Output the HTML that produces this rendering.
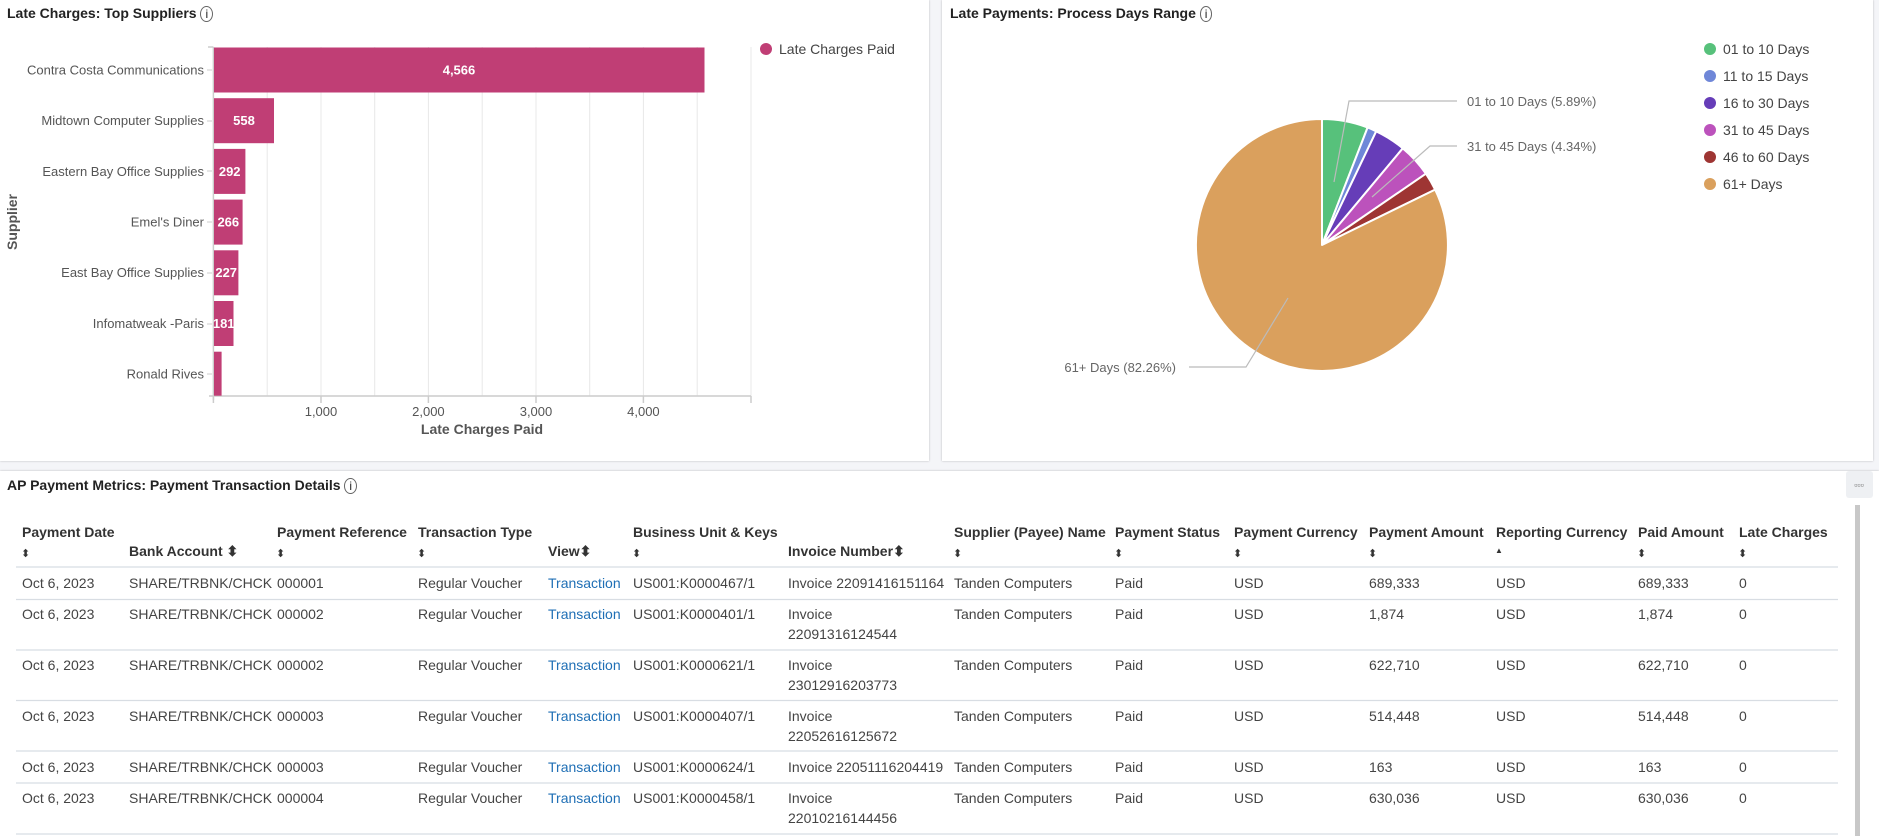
<!DOCTYPE html>
<html><head><meta charset="utf-8"><style>
body{margin:0;width:1879px;height:836px;background:#f4f5f8;font-family:"Liberation Sans",sans-serif;position:relative;overflow:hidden;color:#333}
.panel{position:absolute;background:#fff;box-shadow:0 0 2px rgba(0,0,0,.25)}
.t{position:absolute;white-space:nowrap}
.h{font-weight:bold;font-size:14px;color:#222}
table{position:absolute;left:16px;top:515px;border-collapse:collapse;font-size:14px}
td{vertical-align:top;padding:0;color:#444}
.th{font-weight:bold;color:#333;font-size:14px}
a{color:#1f6fb5;text-decoration:none}
</style></head><body>
<div class="panel" style="left:0;top:0;width:929px;height:461px"></div>
<div class="panel" style="left:942px;top:0;width:931px;height:461px"></div>
<div class="panel" style="left:0;top:471px;width:1879px;height:365px"></div>

<div class="t h" style="left:7px;top:5px">Late Charges: Top Suppliers <span style="font-weight:normal;font-size:12px;border:1px solid #666;border-radius:50%;padding:0 4px">i</span></div>
<div class="t h" style="left:950px;top:5px">Late Payments: Process Days Range <span style="font-weight:normal;font-size:12px;border:1px solid #666;border-radius:50%;padding:0 4px">i</span></div>
<div class="t h" style="left:7px;top:477px">AP Payment Metrics: Payment Transaction Details <span style="font-weight:normal;font-size:12px;border:1px solid #666;border-radius:50%;padding:0 4px">i</span></div>

<svg style="position:absolute;left:0;top:0" width="1879" height="836" font-family="Liberation Sans, sans-serif">
<g stroke="#e8e8e8">
<line x1="267.2" y1="47" x2="267.2" y2="396"/><line x1="321" y1="47" x2="321" y2="396"/><line x1="374.7" y1="47" x2="374.7" y2="396"/><line x1="428.4" y1="47" x2="428.4" y2="396"/><line x1="482.2" y1="47" x2="482.2" y2="396"/><line x1="536" y1="47" x2="536" y2="396"/><line x1="589.7" y1="47" x2="589.7" y2="396"/><line x1="643.4" y1="47" x2="643.4" y2="396"/><line x1="697.2" y1="47" x2="697.2" y2="396"/><line x1="751" y1="47" x2="751" y2="396"/>
</g>
<g stroke="#ccc" stroke-width="1.5">
<line x1="213.4" y1="47" x2="213.4" y2="400"/><line x1="208" y1="47" x2="213.4" y2="47"/>
<line x1="209" y1="396" x2="751" y2="396"/>
<line x1="213.4" y1="396" x2="213.4" y2="403"/><line x1="321" y1="396" x2="321" y2="403"/><line x1="428.4" y1="396" x2="428.4" y2="403"/><line x1="536" y1="396" x2="536" y2="403"/><line x1="643.4" y1="396" x2="643.4" y2="403"/><line x1="751" y1="396" x2="751" y2="403"/>
</g>
<g fill="#c03e75">
<rect x="214" y="47.5" width="490.5" height="45"/>
<rect x="214" y="98.2" width="60" height="45"/>
<rect x="214" y="148.9" width="31.4" height="45"/>
<rect x="214" y="199.6" width="28.6" height="45"/>
<rect x="214" y="250.3" width="24.4" height="45"/>
<rect x="214" y="301" width="19.5" height="45"/>
<rect x="214" y="351.7" width="7.6" height="44"/>
</g>
<g fill="#fff" font-size="13" font-weight="bold" text-anchor="middle">
<text x="459" y="74.5">4,566</text><text x="244" y="125">558</text><text x="229.7" y="175.8">292</text><text x="228.3" y="226.5">266</text><text x="226.2" y="277.2">227</text><text x="223.7" y="328">181</text>
</g>
<g fill="#555" font-size="13" text-anchor="end">
<text x="204" y="74.5">Contra Costa Communications</text>
<text x="204" y="125">Midtown Computer Supplies</text>
<text x="204" y="175.8">Eastern Bay Office Supplies</text>
<text x="204" y="226.5">Emel's Diner</text>
<text x="204" y="277.2">East Bay Office Supplies</text>
<text x="204" y="328">Infomatweak -Paris</text>
<text x="204" y="378.7">Ronald Rives</text>
</g>
<g stroke="#ccc"><line x1="207" y1="70" x2="212" y2="70"/><line x1="207" y1="121" x2="212" y2="121"/><line x1="207" y1="171" x2="212" y2="171"/><line x1="207" y1="222" x2="212" y2="222"/><line x1="207" y1="273" x2="212" y2="273"/><line x1="207" y1="324" x2="212" y2="324"/><line x1="207" y1="374" x2="212" y2="374"/></g>
<g fill="#555" font-size="13" text-anchor="middle">
<text x="321" y="416">1,000</text><text x="428.4" y="416">2,000</text><text x="536" y="416">3,000</text><text x="643.4" y="416">4,000</text>
</g>
<text x="482" y="434" font-size="14" font-weight="bold" fill="#555" text-anchor="middle">Late Charges Paid</text>
<text transform="translate(17,222) rotate(-90)" font-size="14" font-weight="bold" fill="#555" text-anchor="middle">Supplier</text>
<circle cx="766" cy="49" r="6" fill="#c03e75"/>
<text x="779" y="54" font-size="14" fill="#444">Late Charges Paid</text>

<g stroke="#fff" stroke-width="2" stroke-linejoin="round">
<path d="M1322,245 L1322,119 A126,126 0 0 1 1367.6,127.5 Z" fill="#57c17b"/>
<path d="M1322,245 L1367.6,127.5 A126,126 0 0 1 1376.2,131.3 Z" fill="#6f87d8"/>
<path d="M1322,245 L1376.2,131.3 A126,126 0 0 1 1402.8,148.3 Z" fill="#663db8"/>
<path d="M1322,245 L1402.8,148.3 A126,126 0 0 1 1425.9,173.7 Z" fill="#bc52bc"/>
<path d="M1322,245 L1425.9,173.7 A126,126 0 0 1 1435.1,189.6 Z" fill="#9e3533"/>
<path d="M1322,245 L1435.1,189.6 A126,126 0 1 1 1322,119 Z" fill="#daa05d"/>
</g>
<g stroke="#bbb" fill="none" stroke-width="1.2">
<polyline points="1334,182 1349,101 1457,101"/>
<polyline points="1372,197 1430,146 1457,146"/>
<polyline points="1288,298 1246,367 1189,367"/>
</g>
<g fill="#666" font-size="13">
<text x="1467" y="106">01 to 10 Days (5.89%)</text>
<text x="1467" y="151">31 to 45 Days (4.34%)</text>
<text x="1176" y="372" text-anchor="end">61+ Days (82.26%)</text>
</g>
<g font-size="14" fill="#444">
<circle cx="1710" cy="49" r="6" fill="#57c17b"/><text x="1723" y="54">01 to 10 Days</text>
<circle cx="1710" cy="76" r="6" fill="#6f87d8"/><text x="1723" y="81">11 to 15 Days</text>
<circle cx="1710" cy="103" r="6" fill="#663db8"/><text x="1723" y="108">16 to 30 Days</text>
<circle cx="1710" cy="130" r="6" fill="#bc52bc"/><text x="1723" y="135">31 to 45 Days</text>
<circle cx="1710" cy="157" r="6" fill="#9e3533"/><text x="1723" y="162">46 to 60 Days</text>
<circle cx="1710" cy="184" r="6" fill="#daa05d"/><text x="1723" y="189">61+ Days</text>
</g>

<rect x="1846" y="471" width="27" height="27" fill="#eef0f3" rx="3"/>
<text x="1859" y="488" font-size="9" fill="#666" text-anchor="middle">▫▫▫</text>
<rect x="1855" y="505" width="5" height="331" fill="#c8c8c8"/>

<g stroke="#d8dde3" stroke-width="1.2">
<line x1="16" y1="567" x2="1838" y2="567"/><line x1="16" y1="599.5" x2="1838" y2="599.5"/><line x1="16" y1="650" x2="1838" y2="650"/><line x1="16" y1="700.5" x2="1838" y2="700.5"/><line x1="16" y1="751" x2="1838" y2="751"/><line x1="16" y1="783" x2="1838" y2="783"/><line x1="16" y1="834" x2="1838" y2="834"/>
</g>
<g font-size="14" font-weight="bold" fill="#333">
<text x="22" y="537">Payment Date</text><text x="277" y="537">Payment Reference</text><text x="418" y="537">Transaction Type</text><text x="633" y="537">Business Unit &amp; Keys</text>
<text x="954" y="537">Supplier (Payee) Name</text><text x="1115" y="537">Payment Status</text><text x="1234" y="537">Payment Currency</text><text x="1369" y="537">Payment Amount</text><text x="1496" y="537">Reporting Currency</text><text x="1638" y="537">Paid Amount</text><text x="1739" y="537">Late Charges</text>
<text x="129" y="556">Bank Account ⬍</text><text x="548" y="556">View⬍</text><text x="788" y="556">Invoice Number⬍</text>
</g>
<g font-size="11" fill="#333">
<text x="21" y="557">⬍</text><text x="276" y="557">⬍</text><text x="417" y="557">⬍</text><text x="632" y="557">⬍</text><text x="953" y="557">⬍</text><text x="1114" y="557">⬍</text><text x="1233" y="557">⬍</text><text x="1368" y="557">⬍</text><text x="1495" y="553" font-size="8">▲</text><text x="1637" y="557">⬍</text><text x="1738" y="557">⬍</text>
</g>
<g font-size="14" fill="#444" id="rows">
<text x="22" y="588">Oct 6, 2023</text><text x="129" y="588">SHARE/TRBNK/CHCK</text><text x="277" y="588">000001</text><text x="418" y="588">Regular Voucher</text><text x="548" y="588" fill="#1f6fb5">Transaction</text><text x="633" y="588">US001:K0000467/1</text><text x="788" y="588">Invoice 22091416151164</text><text x="954" y="588">Tanden Computers</text><text x="1115" y="588">Paid</text><text x="1234" y="588">USD</text><text x="1369" y="588">689,333</text><text x="1496" y="588">USD</text><text x="1638" y="588">689,333</text><text x="1739" y="588">0</text>
<text x="22" y="619">Oct 6, 2023</text><text x="129" y="619">SHARE/TRBNK/CHCK</text><text x="277" y="619">000002</text><text x="418" y="619">Regular Voucher</text><text x="548" y="619" fill="#1f6fb5">Transaction</text><text x="633" y="619">US001:K0000401/1</text><text x="788" y="619">Invoice</text><text x="788" y="639">22091316124544</text><text x="954" y="619">Tanden Computers</text><text x="1115" y="619">Paid</text><text x="1234" y="619">USD</text><text x="1369" y="619">1,874</text><text x="1496" y="619">USD</text><text x="1638" y="619">1,874</text><text x="1739" y="619">0</text>
<text x="22" y="670">Oct 6, 2023</text><text x="129" y="670">SHARE/TRBNK/CHCK</text><text x="277" y="670">000002</text><text x="418" y="670">Regular Voucher</text><text x="548" y="670" fill="#1f6fb5">Transaction</text><text x="633" y="670">US001:K0000621/1</text><text x="788" y="670">Invoice</text><text x="788" y="690">23012916203773</text><text x="954" y="670">Tanden Computers</text><text x="1115" y="670">Paid</text><text x="1234" y="670">USD</text><text x="1369" y="670">622,710</text><text x="1496" y="670">USD</text><text x="1638" y="670">622,710</text><text x="1739" y="670">0</text>
<text x="22" y="721">Oct 6, 2023</text><text x="129" y="721">SHARE/TRBNK/CHCK</text><text x="277" y="721">000003</text><text x="418" y="721">Regular Voucher</text><text x="548" y="721" fill="#1f6fb5">Transaction</text><text x="633" y="721">US001:K0000407/1</text><text x="788" y="721">Invoice</text><text x="788" y="741">22052616125672</text><text x="954" y="721">Tanden Computers</text><text x="1115" y="721">Paid</text><text x="1234" y="721">USD</text><text x="1369" y="721">514,448</text><text x="1496" y="721">USD</text><text x="1638" y="721">514,448</text><text x="1739" y="721">0</text>
<text x="22" y="772">Oct 6, 2023</text><text x="129" y="772">SHARE/TRBNK/CHCK</text><text x="277" y="772">000003</text><text x="418" y="772">Regular Voucher</text><text x="548" y="772" fill="#1f6fb5">Transaction</text><text x="633" y="772">US001:K0000624/1</text><text x="788" y="772">Invoice 22051116204419</text><text x="954" y="772">Tanden Computers</text><text x="1115" y="772">Paid</text><text x="1234" y="772">USD</text><text x="1369" y="772">163</text><text x="1496" y="772">USD</text><text x="1638" y="772">163</text><text x="1739" y="772">0</text>
<text x="22" y="803">Oct 6, 2023</text><text x="129" y="803">SHARE/TRBNK/CHCK</text><text x="277" y="803">000004</text><text x="418" y="803">Regular Voucher</text><text x="548" y="803" fill="#1f6fb5">Transaction</text><text x="633" y="803">US001:K0000458/1</text><text x="788" y="803">Invoice</text><text x="788" y="823">22010216144456</text><text x="954" y="803">Tanden Computers</text><text x="1115" y="803">Paid</text><text x="1234" y="803">USD</text><text x="1369" y="803">630,036</text><text x="1496" y="803">USD</text><text x="1638" y="803">630,036</text><text x="1739" y="803">0</text>
</g>
</svg>
</body></html>
